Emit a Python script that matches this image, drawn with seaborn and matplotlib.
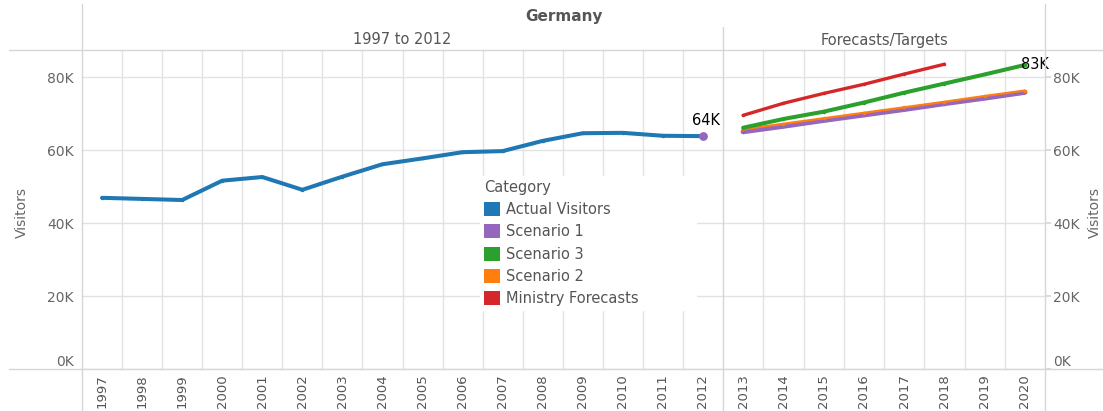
import matplotlib
matplotlib.use("Agg")
import matplotlib.pyplot as plt
from matplotlib.lines import Line2D
from matplotlib.patches import Patch
from matplotlib.ticker import FuncFormatter, FixedLocator
import seaborn as sns
import pandas as pd

# ---------------- data ----------------
actual_years = list(range(1997, 2013))
actual_visitors = [46900, 46600, 46300, 51600, 52600, 49100, 52700, 56100,
                   57700, 59400, 59700, 62500, 64600, 64700, 63900, 63800]

scenario1_years = list(range(2012, 2021))
scenario1 = [63800, 65000, 66500, 68100, 69600, 71100, 72700, 74200, 75800]

scenario2_years = list(range(2013, 2021))
scenario2 = [65700, 67200, 68700, 70200, 71700, 73200, 74800, 76300]

scenario3_years = list(range(2013, 2021))
scenario3 = [66100, 68500, 70500, 73000, 75700, 78200, 80700, 83300]

ministry_years = list(range(2013, 2019))
ministry = [69500, 72800, 75500, 78000, 80800, 83500]

legend_order = ["Actual Visitors", "Scenario 1", "Scenario 3", "Scenario 2", "Ministry Forecasts"]
palette = {"Actual Visitors": "#1f77b4", "Scenario 1": "#9467bd", "Scenario 3": "#2ca02c",
           "Scenario 2": "#ff7f0e", "Ministry Forecasts": "#d62728"}

rows = []
for cat, yrs, vals in [("Actual Visitors", actual_years, actual_visitors),
                       ("Scenario 1", scenario1_years, scenario1),
                       ("Scenario 2", scenario2_years, scenario2),
                       ("Scenario 3", scenario3_years, scenario3),
                       ("Ministry Forecasts", ministry_years, ministry)]:
    for y, v in zip(yrs, vals):
        rows.append({"Category": cat, "Year": y, "Visitors": v})
df = pd.DataFrame(rows)

# ---------------- style ----------------
sns.set_theme(style="white")
plt.rcParams["font.family"] = ["DejaVu Sans"]
GRID = "#e2e2e2"
BORDER = "#d6d6d6"
TXT = "#555555"

W, H = 1103, 411
fig = plt.figure(figsize=(W / 100, H / 100), dpi=100)
fig.patch.set_facecolor("white")

def fx(px):
    return px / W

def fy(py):
    return 1 - py / H

ymax = 87400
axL = fig.add_axes([fx(82), fy(369), fx(723) - fx(82), fy(50) - fy(369)])
axR = fig.add_axes([fx(723), fy(369), fx(1045) - fx(723), fy(50) - fy(369)])

kfmt = FuncFormatter(lambda v, p: f"{int(round(v / 1000))}K")

for ax, x0, x1 in [(axL, 1996.5, 2012.5), (axR, 2012.5, 2020.5)]:
    ax.set_xlim(x0, x1)
    ax.set_ylim(0, ymax)
    ax.set_facecolor("white")
    for s in ax.spines.values():
        s.set_visible(False)
    yrs = list(range(int(x0 + 0.5), int(x1 + 0.5)))
    ax.set_xticks(yrs)
    ax.set_xticklabels([str(y) for y in yrs], rotation=90, color=TXT, fontsize=9.5)
    ax.xaxis.set_minor_locator(FixedLocator([y + 0.5 for y in yrs[:-1]]))
    ax.tick_params(axis="x", which="major", length=0, pad=4)
    ax.tick_params(axis="x", which="minor", length=3, color=BORDER, width=0.8)
    ax.grid(True, axis="x", which="minor", color=GRID, linewidth=1.0, zorder=0)
    ax.set_yticks([0, 20000, 40000, 60000, 80000])
    ax.yaxis.set_major_formatter(kfmt)
    ax.grid(True, axis="y", which="major", color=GRID, linewidth=1.0, zorder=0)
    ax.set_axisbelow(True)
    ax.tick_params(axis="y", length=4, color=BORDER, labelcolor="#666666", labelsize=10, pad=2)
    ax.set_xlabel("")
    ax.set_ylabel("")

axR.yaxis.tick_right()
axR.tick_params(axis="y", length=4, color=BORDER, labelcolor="#666666", labelsize=10, pad=2)

# ---------------- lines ----------------
styles = {"Actual Visitors": 2.9, "Scenario 1": 3.6, "Scenario 2": 1.6,
          "Scenario 3": 2.9, "Ministry Forecasts": 2.4}
draw_order = ["Actual Visitors", "Scenario 1", "Scenario 2", "Scenario 3", "Ministry Forecasts"]

left = df[df["Year"] <= 2012]
right = df[df["Year"] >= 2013]
for cat in draw_order:
    sub = left[left["Category"] == cat]
    if len(sub) > 1:
        sns.lineplot(data=sub, x="Year", y="Visitors", color=palette[cat],
                     linewidth=styles[cat], ax=axL, legend=False,
                     marker="o", markersize=2.5, markeredgewidth=0,
                     solid_capstyle="round", solid_joinstyle="round")
    elif len(sub) == 1:
        sns.scatterplot(data=sub, x="Year", y="Visitors", color=palette[cat],
                        s=40, ax=axL, legend=False, zorder=5, linewidth=0)
    sub = right[right["Category"] == cat]
    if len(sub) > 1:
        sns.lineplot(data=sub, x="Year", y="Visitors", color=palette[cat],
                     linewidth=styles[cat], ax=axR, legend=False,
                     marker="o", markersize=2.5, markeredgewidth=0,
                     solid_capstyle="round", solid_joinstyle="round")

for ax in (axL, axR):
    ax.set_xlabel("")
    ax.set_ylabel("")

# 0K label shifted up
for ax in (axL, axR):
    for t in ax.get_yticklabels():
        if t.get_text() == "0K":
            t.set_va("bottom")

# end-value labels
axL.annotate(f"{round(actual_visitors[-1] / 1000)}K", (actual_years[-1], actual_visitors[-1]),
             xytext=(2, 11), textcoords="offset points", ha="center", va="center",
             fontsize=10.5, color="black", annotation_clip=False)
axR.annotate(f"{round(scenario3[-1] / 1000)}K", (scenario3_years[-1], scenario3[-1]),
             xytext=(7, 0), textcoords="offset points", ha="center", va="center",
             fontsize=10.5, color="black", annotation_clip=False)

# ---------------- headers / frame ----------------
fig.text(fx(563.5), fy(17), "Germany", ha="center", va="center", fontsize=11,
         fontweight="bold", color=TXT)
fig.text(fx(402.5), fy(40), "1997 to 2012", ha="center", va="center", fontsize=10.5, color=TXT)
fig.text(fx(884), fy(40), "Forecasts/Targets", ha="center", va="center", fontsize=10.5, color=TXT)
fig.text(fx(22), fy(212), "Visitors", ha="center", va="center", rotation=90,
         fontsize=10, color="#666666")
fig.text(fx(1095), fy(212), "Visitors", ha="center", va="center", rotation=90,
         fontsize=10, color="#666666")

def fline(x0, y0, x1, y1):
    fig.add_artist(Line2D([fx(x0), fx(x1)], [fy(y0), fy(y1)], transform=fig.transFigure,
                          color=BORDER, linewidth=1.0, zorder=10))

fline(9, 50, 1103, 50)
fline(9, 369, 1103, 369)
fline(82, 4, 82, 411)
fline(723, 27, 723, 411)
fline(1045, 4, 1045, 411)

# ---------------- legend ----------------
handles = [Patch(facecolor=palette[c], edgecolor="none", label=c) for c in legend_order]
leg = fig.legend(handles=handles, title="Category", loc="upper left",
                 bbox_to_anchor=(fx(480), fy(310), fx(696) - fx(480), fy(176) - fy(310)),
                 bbox_transform=fig.transFigure, mode="expand", borderaxespad=0,
                 frameon=True, fancybox=False, framealpha=1, edgecolor="white",
                 facecolor="white", fontsize=10.5, title_fontsize=10.5,
                 handlelength=1.1, handleheight=1.1, handletextpad=0.45,
                 labelspacing=0.5, borderpad=0.25, alignment="left", labelcolor=TXT)
leg.get_title().set_color(TXT)
leg.set_zorder(20)

fig.savefig("out.png", dpi=100, facecolor="white")
